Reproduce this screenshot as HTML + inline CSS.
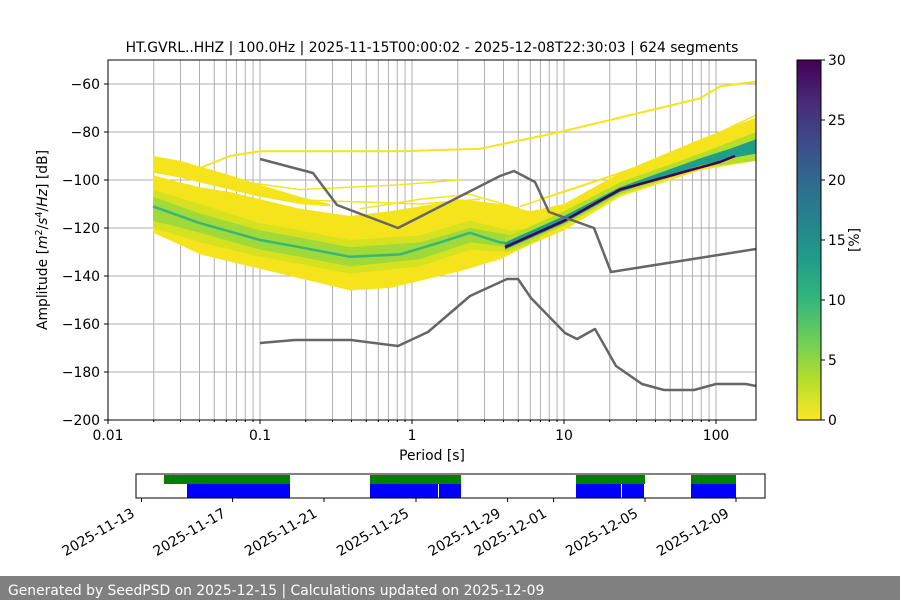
<!DOCTYPE html>
<html><head><meta charset="utf-8"><style>
body{margin:0;background:#fff;width:900px;height:600px;overflow:hidden;font-family:"DejaVu Sans","Liberation Sans",sans-serif}
svg text{font-family:"DejaVu Sans","Liberation Sans",sans-serif;fill:#000}
</style></head><body>
<svg id="s" width="900" height="600" xmlns="http://www.w3.org/2000/svg">
<defs>
<linearGradient id="vir" x1="0" y1="0" x2="0" y2="1">
<stop offset="0" stop-color="#440154"/><stop offset="0.11" stop-color="#482878"/><stop offset="0.22" stop-color="#3e4989"/><stop offset="0.33" stop-color="#31688e"/><stop offset="0.44" stop-color="#26828e"/><stop offset="0.56" stop-color="#1f9e89"/><stop offset="0.67" stop-color="#35b779"/><stop offset="0.78" stop-color="#6ece58"/><stop offset="0.89" stop-color="#b5de2b"/><stop offset="1" stop-color="#fde725"/>
</linearGradient>
<clipPath id="cp"><rect x="108" y="60" width="648" height="360"/></clipPath>
</defs>
<g id="grid"></g>
<g id="heat" clip-path="url(#cp)"></g>
<g id="nm" clip-path="url(#cp)" fill="none" stroke="#666" stroke-width="2.5" stroke-linejoin="round">
<polyline points="260,159 313,173 337,205 398,228 500,176 514,171 535,182 549,212 594,228 611,272 756,249"/>
<polyline points="260,343 295,340 351,340 398,346 428,332 470,296 507,279 518,279 531,298 565,333 577,339 595,329 616,366 642,384 664,390 694,390 716,384 746,384 756,386"/>
</g>
<rect x="108" y="60" width="648" height="360" fill="none" stroke="#000" stroke-width="1"/>
<g id="ax" font-size="13.9"></g>
<text x="432" y="52" text-anchor="middle" font-size="13.9">HT.GVRL..HHZ | 100.0Hz | 2025-11-15T00:00:02 - 2025-12-08T22:30:03 | 624 segments</text>
<text x="432" y="460" text-anchor="middle" font-size="13.9">Period [s]</text>
<text transform="translate(47,240) rotate(-90)" text-anchor="middle" font-size="13.9">Amplitude [<tspan font-style="italic">m</tspan><tspan font-size="9.5" dy="-5">2</tspan><tspan dy="5">/</tspan><tspan font-style="italic">s</tspan><tspan font-size="9.5" dy="-5">4</tspan><tspan dy="5">/</tspan><tspan font-style="italic">Hz</tspan>] [dB]</text>
<rect x="797" y="60" width="24" height="360" fill="url(#vir)" stroke="#000" stroke-width="1"/>
<g id="cb" font-size="13.9"></g>
<text transform="translate(859,240) rotate(-90)" text-anchor="middle" font-size="13.9">[%]</text>
<g id="tl"></g>
<rect x="0" y="576" width="900" height="24" fill="#808080"/>
<text x="8" y="595" font-size="13.9" style="fill:#fff">Generated by SeedPSD on 2025-12-15 | Calculations updated on 2025-12-09</text>
</svg>
<script>
const NS="http://www.w3.org/2000/svg";
function el(p,t,a,txt){const e=document.createElementNS(NS,t);for(const k in a)e.setAttribute(k,a[k]);if(txt!==undefined)e.textContent=txt;document.getElementById(p).appendChild(e);return e;}
const X=v=>108+152*(Math.log10(v)+2), Y=d=>-60-2.4*d;
for(let d=-2;d<=2;d++)for(let m=1;m<=9;m++){const x=X(m*Math.pow(10,d));if(x>108&&x<756)el("grid","line",{x1:x,x2:x,y1:60,y2:420,stroke:"#b0b0b0","stroke-width":1});}
for(let d=-60;d>=-180;d-=20)el("grid","line",{x1:108,x2:756,y1:Y(d),y2:Y(d),stroke:"#b0b0b0","stroke-width":1});
for(let d=-60;d>=-200;d-=20){el("ax","line",{x1:104,x2:108,y1:Y(d),y2:Y(d),stroke:"#000"});el("ax","text",{x:100,y:Y(d)+5,"text-anchor":"end"},"\u2212"+(-d));}
[["0.01",0.01],["0.1",0.1],["1",1],["10",10],["100",100]].forEach(([l,v])=>{const x=X(v);el("ax","line",{x1:x,x2:x,y1:420,y2:424,stroke:"#000"});el("ax","text",{x:x,y:440,"text-anchor":"middle"},l);});
for(let d=-2;d<=2;d++)for(let m=2;m<=9;m++){const x=X(m*Math.pow(10,d));if(x<756)el("ax","line",{x1:x,x2:x,y1:420,y2:422,stroke:"#000"});}
for(let v=0;v<=30;v+=5){const y=420-v*12;el("cb","line",{x1:821,x2:825,y1:y,y2:y,stroke:"#000"});el("cb","text",{x:828,y:y+5},String(v));}
function band(pts,color){let a=pts.map(p=>p[0]+","+Y(p[1]).toFixed(1));let b=pts.slice().reverse().map(p=>p[0]+","+Y(p[2]).toFixed(1));el("heat","polygon",{points:a.concat(b).join(" "),fill:color});}
function line(pts,color,w){el("heat","polyline",{points:pts.map(p=>p[0]+","+Y(p[1]).toFixed(1)).join(" "),fill:"none",stroke:color,"stroke-width":w,"stroke-linejoin":"round"});}
const yl="#f5e41c";
band([[153,-90,-97],[180,-92,-99],[230,-98,-104],[260,-102,-107],[300,-107,-110],[330,-110,-111]],yl);
band([[153,-98,-122],[180,-101,-127],[200,-103,-131],[230,-105,-134],[260,-108,-137],[300,-112,-141],[350,-115,-146],[390,-113,-145],[420,-111,-142],[460,-108,-138],[500,-110,-133],[530,-113,-127],[564,-110,-121],[620,-97,-107],[700,-83,-96],[756,-74,-92]],yl);
band([[153,-104,-120],[200,-110,-126],[260,-118,-132],[300,-121,-135],[350,-125,-139],[420,-123,-136],[470,-117,-129],[510,-121,-130],[540,-120,-125]],"#d6e21f");
band([[153,-107,-117],[200,-114,-122],[260,-121,-129],[300,-124,-132],[350,-128,-136],[420,-126,-133],[470,-120,-126],[510,-123,-128],[530,-123,-126]],"#9fd93a");
line([[153,-111],[200,-118],[260,-125],[300,-128],[350,-132],[400,-131],[440,-126],[470,-122],[500,-126],[520,-127]],"#35b779",2.5);
band([[505,-124,-130],[564,-113,-119],[620,-101,-106],[700,-89,-95],[756,-80,-92]],"#b5de2b");
band([[505,-126,-129],[564,-115,-118],[620,-103,-105],[700,-91,-94],[730,-87,-91],[756,-83,-89]],"#1f9e89");
line([[505,-128],[564,-117],[620,-104],[720,-92.5],[735,-90]],"#440154",2.5);
line([[153,-92],[200,-95],[230,-90],[260,-88],[400,-88],[480,-87],[560,-80],[620,-74],[700,-66],[720,-61],[756,-59]],yl,2);
line([[520,-111],[600,-100],[680,-88],[756,-73]],yl,1.5);
line([[540,-108],[620,-97],[700,-86],[756,-78]],yl,1.5);
line([[280,-108],[350,-109],[420,-110],[480,-108]],yl,1.5);
line([[230,-100],[300,-104],[400,-102],[460,-100]],yl,1.5);
line([[360,-112],[420,-108],[470,-106],[520,-112]],yl,1.5);
el("tl","rect",{x:136,y:474,width:629,height:24,fill:"#fff",stroke:"#000","stroke-width":1});
[[164,290],[370,461],[576,645],[691,736]].forEach(([a,b])=>el("tl","rect",{x:a,y:475,width:b-a,height:9,fill:"#008000"}));
[[187,290],[370,438],[439,461],[576,621],[622,644],[691,736]].forEach(([a,b])=>el("tl","rect",{x:a,y:484,width:b-a,height:13.5,fill:"#0000ff"}));
[["2025-11-13",141.5],["2025-11-17",232.6],["2025-11-21",324],["2025-11-25",416],["2025-11-29",507.6],["2025-12-01",553.6],["2025-12-05",645],["2025-12-09",736]].forEach(([l,x])=>{el("tl","line",{x1:x,x2:x,y1:498,y2:502,stroke:"#000"});el("tl","text",{transform:`translate(${x-6},${516}) rotate(-30)`,"text-anchor":"end","font-size":"13.9"},l);});
</script>
</body></html>
